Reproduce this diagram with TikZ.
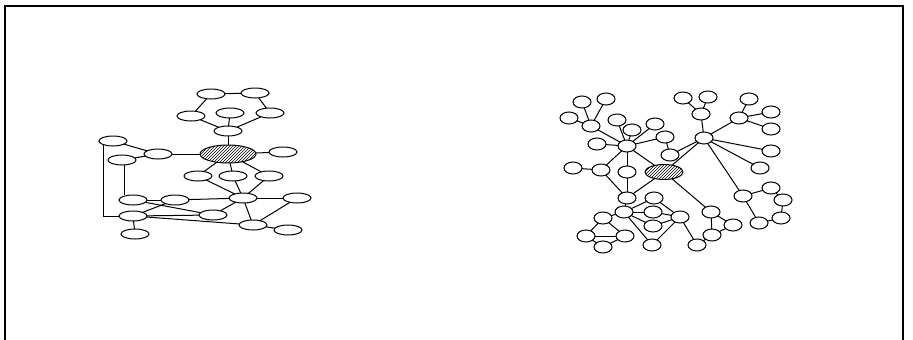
\documentclass[tikz,border=0pt]{standalone}
\usetikzlibrary{shapes.geometric,patterns}
\begin{document}
\begin{tikzpicture}[
        x=1pt, y=-1pt, line width=1pt,
        site/.style={ellipse,draw,fill=white,minimum width=#1,
            minimum height=10pt, inner sep=0pt, outer sep=0pt},
        site/.default=28pt,
        atom/.style={ellipse,draw,fill=white,minimum width=18pt,
            minimum height=12pt, inner sep=0pt, outer sep=0pt},
        core/.style={ellipse,draw,pattern=north east lines,
            inner sep=0pt, outer sep=0pt}
    ]
        \useasboundingbox (0,0) rectangle (913,340);
        \draw[line width=1.2pt] (5,340) -- (5,6) -- (903,6) -- (903,340);
        % left graph
        \node[site] (a1) at (211,94) {};
        \node[site] (a2) at (255,93) {};
        \node[site] (a3) at (191,116) {};
        \node[site] (a4) at (230,113) {};
        \node[site] (a5) at (270,113) {};
        \node[site] (a6) at (228,131) {};
        \node[core, minimum width=56pt, minimum height=18pt] (c) at (228,154) {};
        \node[site] (r) at (283,152) {};
        \node[site] (l1) at (158,154) {};
        \node[site] (tl) at (113,141) {};
        \node[site] (tl2) at (122,160) {};
        \node[site] (d1) at (198,176) {};
        \node[site] (d2) at (233,176) {};
        \node[site] (d3) at (269,176) {};
        \node[site] (p1) at (133,200) {};
        \node[site] (p2) at (175,200) {};
        \node[site] (p3) at (243,198) {};
        \node[site] (p4) at (297,198) {};
        \node[site] (q1) at (133,216) {};
        \node[site] (q2) at (213,215) {};
        \node[site] (q3) at (253,225) {};
        \node[site] (q4) at (288,230) {};
        \node[site] (b) at (135,234) {};
        \draw (a1) -- (a2);
        \draw (a1) -- (a3);
        \draw (a2) -- (a5);
        \draw (a3) -- (a6);
        \draw (a4) -- (a6);
        \draw (a5) -- (a6);
        \draw (a6) -- (c);
        \draw (c) -- (r);
        \draw (c) -- (l1);
        \draw (l1) -- (tl);
        \draw (l1) -- (tl2);
        \draw (c) -- (d1);
        \draw (c) -- (d2);
        \draw (c) -- (d3);
        \draw (tl.200) |- (q1.west);
        \draw (tl2.-60) -- (tl2.-60 |- p1.north);
        \draw (p1) -- (p2);
        \draw (p2) -- (p3);
        \draw (p3) -- (p4);
        \draw (d1) -- (p3);
        \draw (d2) -- (p3);
        \draw (d3) -- (p3);
        \draw (p3) -- (q2);
        \draw (p3) -- (q3);
        \draw (p4) -- (q3);
        \draw (q3) -- (q4);
        \draw (p1) -- (q2);
        \draw (q1) -- (p2);
        \draw (q1) -- (q2);
        \draw (q1) -- (q3);
        \draw (q1) -- (b);
        % right graph
        \node[atom] (r1) at (582,102) {};
        \node[atom] (r2) at (606,99) {};
        \node[atom] (r3) at (569,118) {};
        \node[atom] (r4) at (591,126) {};
        \node[atom] (r5) at (617,120) {};
        \node[atom] (r6) at (632,130) {};
        \node[atom] (r7) at (655,124) {};
        \node[atom] (r8) at (597,144) {};
        \node[atom] (h1) at (627,146) {};
        \node[atom] (r9) at (665,137) {};
        \node[atom] (r10) at (670,155) {};
        \node[atom] (r11) at (683,98) {};
        \node[atom] (r12) at (708,97) {};
        \node[atom] (r13) at (701,114) {};
        \node[atom] (h2) at (704,138) {};
        \node[atom] (r14) at (749,99) {};
        \node[atom] (r15) at (739,118) {};
        \node[atom] (r16) at (771,112) {};
        \node[atom] (r17) at (771,129) {};
        \node[atom] (r18) at (771,151) {};
        \node[atom] (r19) at (760,168) {};
        \node[atom] (r20) at (573,168) {};
        \node[atom] (r21) at (601,170) {};
        \node[atom] (r22) at (627,172) {};
        \node[core, minimum width=38pt, minimum height=15pt] (c2) at (664,172) {};
        \node[atom] (s1) at (627,198) {};
        \node[atom] (s2) at (654,198) {};
        \node[atom] (s3) at (624,212) {};
        \node[atom] (s4) at (653,212) {};
        \node[atom] (s5) at (653,226) {};
        \node[atom] (s6) at (680,217) {};
        \node[atom] (s7) at (603,218) {};
        \node[atom] (s8) at (586,236) {};
        \node[atom] (s9) at (625,236) {};
        \node[atom] (s10) at (603,247) {};
        \node[atom] (s11) at (652,245) {};
        \node[atom] (t1) at (711,212) {};
        \node[atom] (t2) at (733,225) {};
        \node[atom] (t3) at (712,235) {};
        \node[atom] (t4) at (697,245) {};
        \node[atom] (u1) at (743,196) {};
        \node[atom] (u2) at (771,188) {};
        \node[atom] (u3) at (783,200) {};
        \node[atom] (u4) at (781,218) {};
        \node[atom] (u5) at (759,223) {};
        \draw (r1) -- (r4);
        \draw (r2) -- (r4);
        \draw (r3) -- (r4);
        \draw (r4) -- (h1);
        \draw (r5) -- (h1);
        \draw (r6) -- (h1);
        \draw (r7) -- (h1);
        \draw (r8) -- (h1);
        \draw (h1) -- (r9);
        \draw (r9) -- (r10);
        \draw (r10) -- (h2);
        \draw (h2) -- (r13);
        \draw (r13) -- (r11);
        \draw (r13) -- (r12);
        \draw (h2) -- (r15);
        \draw (r15) -- (r14);
        \draw (r15) -- (r16);
        \draw (r15) -- (r17);
        \draw (h2) -- (r18);
        \draw (h2) -- (r19);
        \draw (h2) -- (c2);
        \draw (h2) -- (u1);
        \draw (h1) -- (c2);
        \draw (h1) -- (r22);
        \draw (h1) -- (r21);
        \draw (r20) -- (r21);
        \draw (r21) -- (s1);
        \draw (r22) -- (s1);
        \draw (c2) -- (s1);
        \draw (s1) -- (s3);
        \draw (s3) -- (s2);
        \draw (s3) -- (s4);
        \draw (s3) -- (s5);
        \draw (s3) -- (s7);
        \draw (s3) -- (s11);
        \draw (s2) -- (s6);
        \draw (s4) -- (s6);
        \draw (s5) -- (s6);
        \draw (s6) -- (s11);
        \draw (s6) -- (t4);
        \draw (c2) -- (t1);
        \draw (t1) -- (t2);
        \draw (t1) -- (t3);
        \draw (t2) -- (t3);
        \draw (t3) -- (t4);
        \draw (s7) -- (s8);
        \draw (s7) -- (s9);
        \draw (s8) -- (s9);
        \draw (s8) -- (s10);
        \draw (s9) -- (s10);
        \draw (u1) -- (u2);
        \draw (u2) -- (u3);
        \draw (u3) -- (u4);
        \draw (u4) -- (u5);
        \draw (u5) -- (u1);
    \end{tikzpicture}
\end{document}
